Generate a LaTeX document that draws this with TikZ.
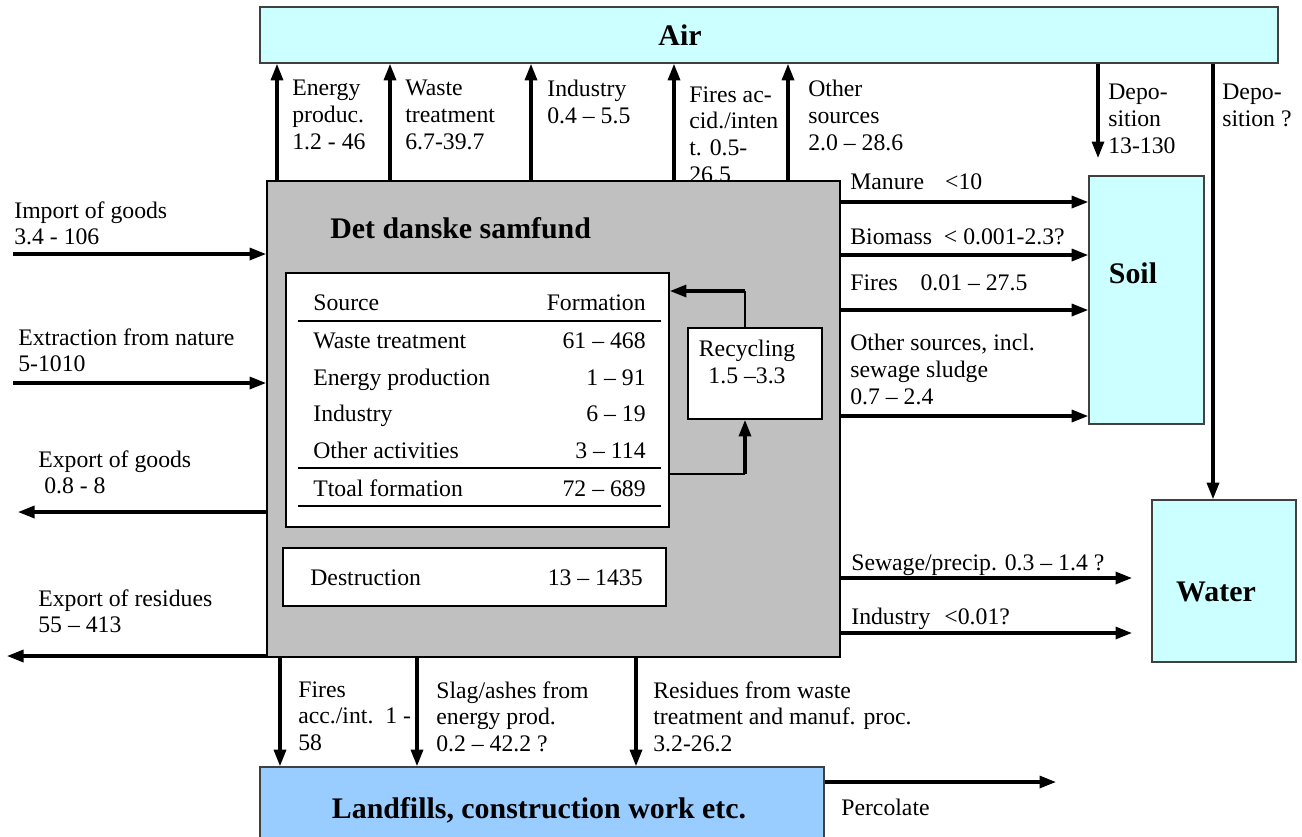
\documentclass[tikz,border=0pt]{standalone}
\usepackage{fontspec}
\setmainfont{Liberation Serif}
\usetikzlibrary{arrows.meta, fit}

\definecolor{aircyan}{RGB}{204,255,255}
\definecolor{landblue}{RGB}{153,204,255}
\definecolor{boxgray}{RGB}{192,192,192}

\newcommand\fs{\fontsize{13.5}{15.3}\selectfont}
\newcommand\fb{\fontsize{17}{20}\selectfont\bfseries}

\tikzset{
  flow/.style={line width=1.8pt, -{Triangle[length=3.3mm,width=2.4mm]}},
  thinline/.style={line width=0.8pt},
  rule/.style={line width=1.3pt},
  lbl/.style={anchor=north west, inner sep=0pt, align=left, font=\fs},
  txt/.style={anchor=base west, inner sep=0pt, font=\fs},
  num/.style={anchor=base east, inner sep=0pt, font=\fs},
  title/.style={inner sep=0pt, font=\fb},
  compartment/.style={draw=black!75, line width=0.9pt, fill=aircyan, inner sep=0pt},
  whitebox/.style={draw, line width=1pt, fill=white, inner sep=0pt},
}

\begin{document}
\begin{tikzpicture}[x=0.2mm,y=-0.2mm]
\useasboundingbox (0,0) rectangle (1302,836);

% compartments
\node[compartment, fit={(260,7) (1278,63)}] (air) {};
\node[compartment, fit={(1089,176) (1204,424)}] (soil) {};
\node[compartment, fit={(1152,500) (1296,662)}] (water) {};
\node[compartment, fill=landblue, fit={(260,767) (824,845)}] (land) {};

\node[title] (tair) at (680,35) {Air};
\node[title] (tsoil) at (1133,273) {Soil};
\node[title] (twater) at (1216,592) {Water};
\node[title] (tland) at (539,810) {Landfills, construction work etc.};

% emissions to air
\node[lbl] (lenergy) at (292,80) {Energy\\produc.\\1.2 - 46};
\node[lbl] (lwaste) at (405,80) {Waste\\treatment\\6.7-39.7};
\node[lbl] (lind) at (547,80) {Industry\\0.4 -- 5.5};
\node[lbl] (lfires) at (689,86) {Fires ac-\\cid./inten\\t. 0.5-\\26.5};
\node[lbl] (lother) at (808,80) {Other\\sources\\2.0 -- 28.6};

% society
\node[draw, line width=1pt, fill=boxgray, inner sep=0pt, fit={(267,181) (840,657)}] (main) {};
\node[title, anchor=west] (tmain) at (330,228) {Det danske samfund};
\node[whitebox, fit={(286,273) (669,527)}] (table) {};
\node[whitebox, fit={(688,328) (822,419)}] (rec) {};
\node[whitebox, fit={(283,548) (666,606)}] (destr) {};

\draw[rule] (298,321) -- (661,321);
\draw[rule] (298,468) -- (661,468);
\draw[rule] (298,506) -- (661,506);
\foreach \y/\a/\b in {310/Source/Formation, 348/Waste treatment/61 -- 468,
    385/Energy production/1 -- 91, 421/Industry/6 -- 19,
    458/Other activities/3 -- 114, 496/Ttoal formation/72 -- 689}
  {\node[txt] (src\y) at (313,\y) {\a};
   \node[num] (val\y) at (646,\y) {\b};}
\node[txt] (ldestr) at (310,585) {Destruction};
\node[num] (vdestr) at (643,585) {13 -- 1435};
\node[font=\fs, align=center, inner sep=0pt] (trec) at (747,362) {Recycling\\1.5 --3.3};

% recycling loop
\coordinate (rt) at (745,291);
\coordinate (rb) at (745,474);
\draw[thinline] (rt |- rec.north) -- (rt);
\draw[flow] (rt) -- (rt -| table.east);
\draw[thinline] (rb -| table.east) -- (rb);
\draw[flow] (rb) -- (rb |- rec.south);

% up to air
\foreach \x in {277,390,531,674,788} {
  \coordinate (up\x) at (\x,0);
  \draw[flow] (up\x |- main.north) -- (up\x |- air.south);
}

% deposition
\coordinate (dep1) at (1098,158);
\coordinate (dep2) at (1213,0);
\draw[flow] (dep1 |- air.south) -- (dep1);
\draw[flow] (dep2 |- air.south) -- (dep2 |- water.north);
\node[lbl] (ldep1) at (1108,84) {Depo-\\sition\\13-130};
\node[lbl] (ldep2) at (1222,84) {Depo-\\sition ?};

% in and out
\coordinate (inG) at (13,254);
\coordinate (inN) at (13,383);
\coordinate (exG) at (18,512);
\coordinate (exR) at (7,656);
\draw[flow] (inG) -- (inG -| main.west);
\draw[flow] (inN) -- (inN -| main.west);
\draw[flow] (exG -| main.west) -- (exG);
\draw[flow] (exR -| main.west) -- (exR);
\node[lbl] (limport) at (14,201) {Import of goods\\3.4 - 106};
\node[lbl] (lextract) at (18,328) {Extraction from nature\\5-1010};
\node[lbl] (lexpg) at (38,450) {Export of goods\\\hspace{0.25em}0.8 - 8};
\node[lbl] (lexpr) at (38,589) {Export of residues\\55 -- 413};

% to soil
\foreach \y in {202,255,310,416} {
  \coordinate (s\y) at (0,\y);
  \draw[flow] (main.east |- s\y) -- (soil.west |- s\y);
}
\node[lbl] (lmanure) at (850,173) {Manure\hspace{12pt}<10};
\node[lbl] (lbio) at (850,228) {Biomass\ \ < 0.001-2.3?};
\node[lbl] (lfire2) at (850,274) {Fires\hspace{13pt}0.01 -- 27.5};
\node[lbl] (lothsrc) at (850,334) {Other sources, incl.\\sewage sludge\\0.7 -- 2.4};

% to water
\coordinate (w1) at (1132,578);
\coordinate (w2) at (1132,633);
\draw[flow] (w1 -| main.east) -- (w1);
\draw[flow] (w2 -| main.east) -- (w2);
\node[lbl] (lsew) at (851,554) {Sewage/precip. 0.3 -- 1.4 ?};
\node[lbl] (lindw) at (851,608) {Industry\hspace{8pt}<0.01?};

% to landfills
\foreach \x in {280,417,636} {
  \coordinate (dn\x) at (\x,0);
  \draw[flow] (dn\x |- main.south) -- (dn\x |- land.north);
}
\node[lbl] (lfire3) at (298,681) {Fires\\acc./int.\ \ 1 -\\58};
\node[lbl] (lslag) at (436,681) {Slag/ashes from\\energy prod.\\0.2 -- 42.2 ?};
\node[lbl] (lres) at (653,681) {Residues from waste\\treatment and manuf. proc.\\3.2-26.2};

\coordinate (perc) at (1056,782);
\draw[flow] (perc -| land.east) -- (perc);
\node[lbl] (lperc) at (841,799) {Percolate};
\end{tikzpicture}
\end{document}
